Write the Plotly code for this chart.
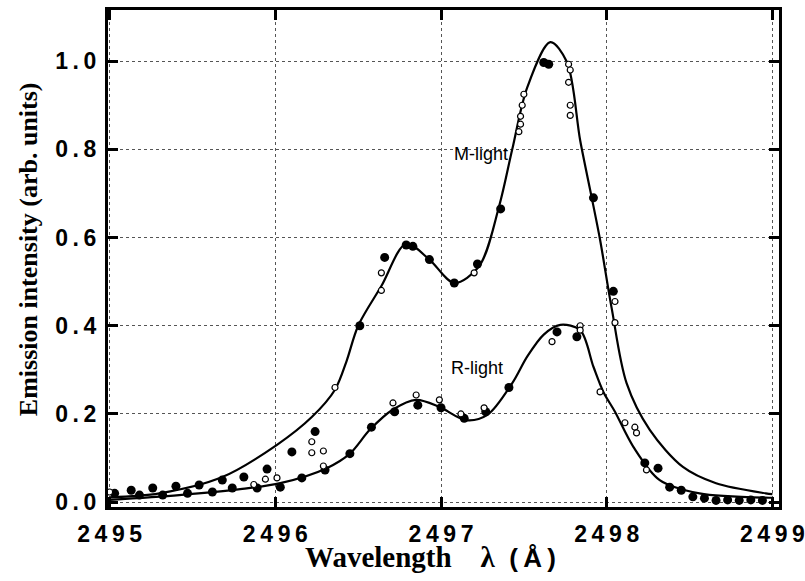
import plotly.graph_objects as go

# Fitted curves
m_x = [2495.0, 2495.3, 2495.68, 2496.01, 2496.22, 2496.36, 2496.43, 2496.50, 2496.64, 2496.79, 2496.93,
       2497.08, 2497.23, 2497.35, 2497.43, 2497.52, 2497.66, 2497.76, 2497.84, 2497.91, 2497.96,
       2498.03, 2498.12, 2498.26, 2498.46, 2498.66, 2498.96, 2499.0]
m_y = [0.011, 0.02, 0.057, 0.13, 0.193, 0.255, 0.32, 0.40, 0.49, 0.586, 0.55,
       0.497, 0.535, 0.67, 0.80, 0.94, 1.043, 0.998, 0.82, 0.69, 0.595,
       0.44, 0.27, 0.164, 0.08, 0.043, 0.02, 0.018]
r_x = [2495.0, 2495.42, 2495.8, 2496.03, 2496.31, 2496.45, 2496.57, 2496.71, 2496.85, 2496.99,
       2497.15, 2497.28, 2497.43, 2497.52, 2497.62, 2497.72, 2497.84, 2497.92, 2497.98, 2498.05,
       2498.16, 2498.32, 2498.56, 2498.98, 2499.0]
r_y = [0.005, 0.016, 0.03, 0.043, 0.077, 0.11, 0.164, 0.21, 0.232, 0.216,
       0.186, 0.198, 0.27, 0.33, 0.38, 0.402, 0.39, 0.307, 0.25, 0.205,
       0.126, 0.05, 0.02, 0.01, 0.01]

# Measured points (filled)
f_x = [2495.03, 2495.13, 2495.18, 2495.26, 2495.32, 2495.40, 2495.47, 2495.54, 2495.62, 2495.68,
       2495.74, 2495.81, 2495.89, 2495.95, 2496.03, 2496.10, 2496.16, 2496.24, 2496.30, 2496.45,
       2496.58, 2496.72, 2496.86, 2497.00, 2497.14, 2497.27, 2497.41, 2497.70, 2497.82, 2498.23,
       2498.31, 2498.38, 2498.45, 2498.52, 2498.59, 2498.66, 2498.73, 2498.80, 2498.87, 2498.94,
       2496.51, 2496.66, 2496.79, 2496.83, 2496.93, 2497.08, 2497.22, 2497.36, 2497.62, 2497.65,
       2497.92, 2498.04]
f_y = [0.020, 0.027, 0.016, 0.032, 0.016, 0.036, 0.020, 0.039, 0.023, 0.050,
       0.032, 0.057, 0.032, 0.075, 0.034, 0.114, 0.055, 0.160, 0.073, 0.110,
       0.170, 0.205, 0.220, 0.214, 0.190, 0.205, 0.260, 0.386, 0.375, 0.089,
       0.077, 0.034, 0.027, 0.012, 0.009, 0.004, 0.005, 0.004, 0.005, 0.004,
       0.400, 0.555, 0.583, 0.580, 0.550, 0.497, 0.540, 0.665, 0.997, 0.993,
       0.690, 0.478]

# Measured points (open)
o_x = [2495.00, 2495.87, 2495.94, 2496.01, 2496.22, 2496.22, 2496.29, 2496.29, 2496.36, 2496.64,
       2496.64, 2496.71, 2496.85, 2496.99, 2497.12, 2497.26, 2497.20, 2497.50, 2497.49, 2497.48,
       2497.48, 2497.47, 2497.77, 2497.78, 2497.77, 2497.78, 2497.78, 2498.05, 2498.05, 2497.67,
       2497.84, 2497.84, 2497.96, 2498.11, 2498.17, 2498.18, 2498.24]
o_y = [0.023, 0.040, 0.052, 0.055, 0.137, 0.112, 0.116, 0.082, 0.260, 0.520,
       0.480, 0.225, 0.243, 0.232, 0.200, 0.214, 0.520, 0.925, 0.900, 0.875,
       0.857, 0.840, 0.993, 0.980, 0.952, 0.900, 0.877, 0.455, 0.407, 0.364,
       0.400, 0.390, 0.250, 0.180, 0.170, 0.157, 0.073]

x_ticks = [2495, 2496, 2497, 2498, 2499]
y_ticks = [0.0, 0.2, 0.4, 0.6, 0.8, 1.0]

def spaced(s):
    return "\u2009".join(s)

fig = go.Figure()
fig.add_trace(go.Scatter(x=m_x, y=m_y, mode="lines", line=dict(color="black", width=2.2, shape="spline", smoothing=0.9)))
fig.add_trace(go.Scatter(x=r_x, y=r_y, mode="lines", line=dict(color="black", width=2.2, shape="spline", smoothing=0.9)))
fig.add_trace(go.Scatter(x=f_x, y=f_y, mode="markers", marker=dict(symbol="circle", size=9, color="black")))
fig.add_trace(go.Scatter(x=o_x, y=o_y, mode="markers",
                         marker=dict(symbol="circle", size=6, color="white", line=dict(color="black", width=1.2))))

fig.add_annotation(x=2497.24, y=0.79, text="M-light", showarrow=False,
                   font=dict(family="Liberation Sans", size=18, color="black"))
fig.add_annotation(x=2497.22, y=0.305, text="R-light", showarrow=False,
                   font=dict(family="Liberation Sans", size=18, color="black"))

x_title = ("Wavelength\u00a0\u00a0\u00a0\u00a0λ\u00a0\u00a0"
           "<span style='font-family:Liberation Sans;font-size:26px'>(\u2009Å\u2009)</span>")
fig.add_annotation(xref="paper", yref="paper", x=0.481, y=-0.1, text=x_title,
                   showarrow=False, xanchor="center", yanchor="middle",
                   font=dict(family="Liberation Serif", size=29, color="black", weight="bold"))
fig.add_annotation(xref="paper", yref="paper", x=-0.119, y=0.519, text="Emission intensity (arb. units)",
                   showarrow=False, xanchor="center", yanchor="middle", textangle=-90,
                   font=dict(family="Liberation Serif", size=26, color="black", weight="bold"))

axis_common = dict(showline=True, linecolor="black", linewidth=3, mirror="ticks",
                   ticks="inside", ticklen=10, tickwidth=2.5, tickcolor="black",
                   showgrid=True, gridcolor="#555", gridwidth=1, griddash="dot",
                   zeroline=False, automargin=False, ticklabeloverflow="allow",
                   tickfont=dict(family="Liberation Sans", size=23, color="black", weight="bold"))

fig.update_layout(
    width=805, height=581,
    margin=dict(l=108, r=26, t=10, b=74),
    paper_bgcolor="white", plot_bgcolor="white",
    showlegend=False,
    xaxis=dict(range=[2494.99, 2499.04], tickvals=x_ticks, ticktext=[spaced(str(v)) for v in x_ticks],
               ticklabelstandoff=4, **axis_common),
    yaxis=dict(range=[-0.011, 1.116], tickvals=y_ticks, ticktext=[spaced(f"{v:.1f}") for v in y_ticks],
               ticklabelstandoff=4, **axis_common),
)

fig.write_html("out.html", config={"displayModeBar": False},
               post_script="document.body.style.margin='0px';document.body.style.overflow='hidden';")
